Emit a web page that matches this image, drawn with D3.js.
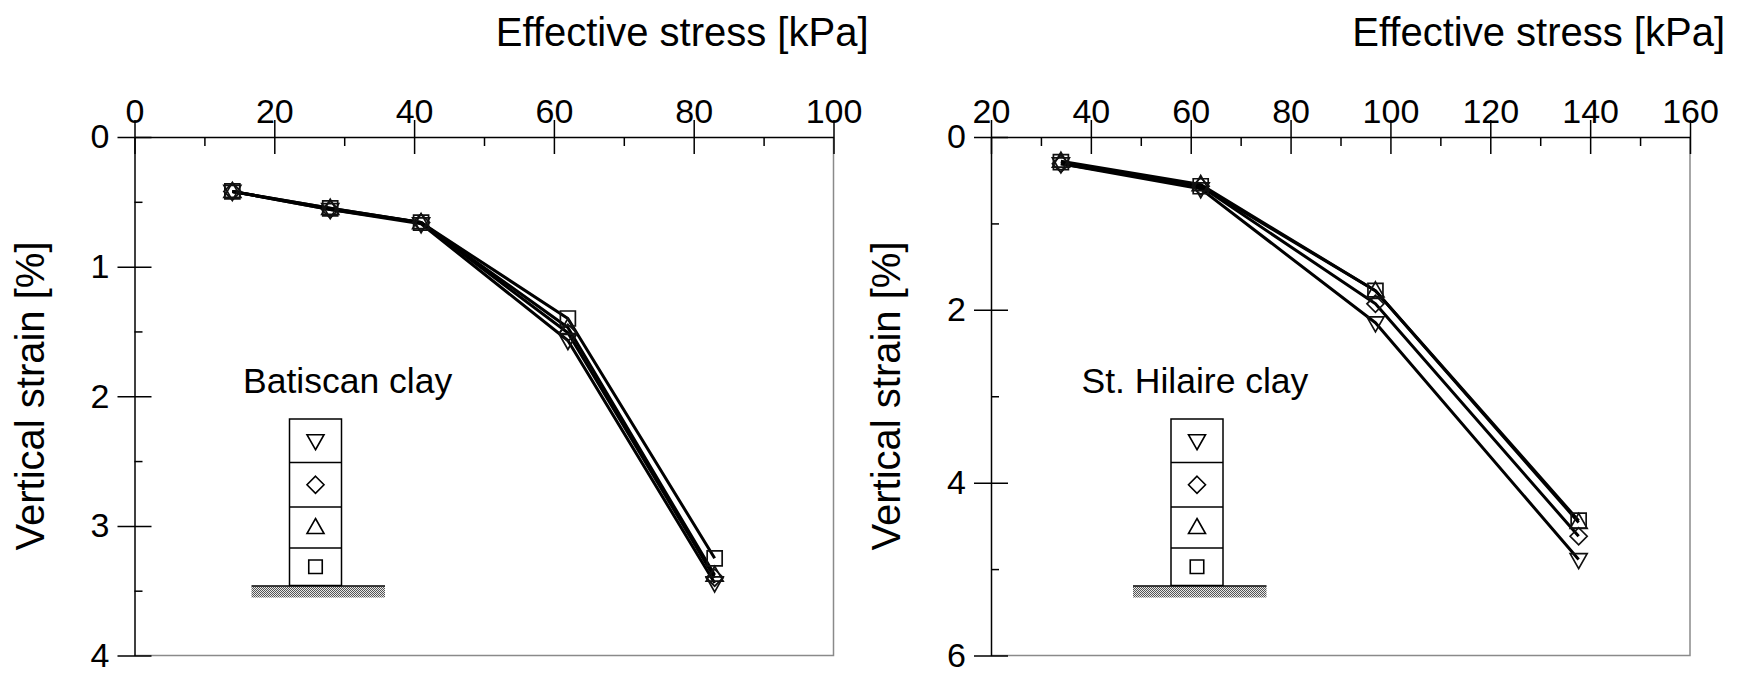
<!DOCTYPE html>
<html>
<head>
<meta charset="utf-8">
<script src="https://cdn.jsdelivr.net/npm/d3@7"></script>
<style>
  body { margin: 0; background: #fff; }
  text { font-family: "Liberation Sans", Arial, sans-serif; fill: #000; }
</style>
</head>
<body>
<div id="chart"></div>
<script>
// Batiscan clay: effective stress [kPa] and vertical strain [%] per gauge level
const batiscanStress = [14, 28, 41, 62, 83];
const batiscanSquare = [0.42, 0.55, 0.66, 1.40, 3.25];
const batiscanTriangle = [0.42, 0.55, 0.66, 1.47, 3.38];
const batiscanDiamond = [0.42, 0.56, 0.66, 1.51, 3.40];
const batiscanInvTriangle = [0.42, 0.56, 0.67, 1.57, 3.44];
const batiscanXTicks = [0, 20, 40, 60, 80, 100];
const batiscanYTicks = [0, 1, 2, 3, 4];

// St. Hilaire clay
const hilaireStress = [34, 62, 97, 137.7];
const hilaireSquare = [0.29, 0.57, 1.78, 4.44];
const hilaireTriangle = [0.28, 0.55, 1.78, 4.46];
const hilaireDiamond = [0.31, 0.57, 1.93, 4.62];
const hilaireInvTriangle = [0.31, 0.60, 2.15, 4.89];
const hilaireXTicks = [20, 40, 60, 80, 100, 120, 140, 160];
const hilaireYTicks = [0, 2, 4, 6];

const xTitle = "Effective stress [kPa]";
const yTitle = "Vertical strain [%]";

const WIDTH = 1739;
const HEIGHT = 677;

const svg = d3
  .select("#chart")
  .append("svg")
  .attr("width", WIDTH)
  .attr("height", HEIGHT);

// stipple pattern for the ground under the legend column
svg
  .append("defs")
  .append("pattern")
  .attr("id", "ground")
  .attr("width", 2)
  .attr("height", 2)
  .attr("patternUnits", "userSpaceOnUse")
  .call((p) => {
    p.append("rect").attr("width", 2).attr("height", 2).attr("fill", "#e8e8e8");
    p.append("rect").attr("width", 1).attr("height", 1).attr("fill", "#555");
    p.append("rect").attr("x", 1).attr("y", 1).attr("width", 1).attr("height", 1).attr("fill", "#555");
  });

// marker outlines, centred on 0,0
function markerPath(shape, k = 1) {
  const s = 7.5 * k;
  const w = 8.5 * k;
  if (shape === "square") return `M${-s},${-s}h${2 * s}v${2 * s}h${-2 * s}Z`;
  if (shape === "triangle") return `M0,${-9 * k}L${w},${6 * k}L${-w},${6 * k}Z`;
  if (shape === "invTriangle") return `M0,${9 * k}L${w},${-6 * k}L${-w},${-6 * k}Z`;
  return `M0,${-w}L${w},0L0,${w}L${-w},0Z`;
}

const panels = [
  {
    left: 134.5,
    right: 833.5,
    stress: batiscanStress,
    series: [
      { shape: "square", values: batiscanSquare },
      { shape: "triangle", values: batiscanTriangle },
      { shape: "diamond", values: batiscanDiamond },
      { shape: "invTriangle", values: batiscanInvTriangle },
    ],
    xTicks: batiscanXTicks,
    yTicks: batiscanYTicks,
    label: "Batiscan clay",
    labelX: 243,
    columnX: 289.5,
  },
  {
    left: 991,
    right: 1690,
    stress: hilaireStress,
    series: [
      { shape: "square", values: hilaireSquare },
      { shape: "triangle", values: hilaireTriangle },
      { shape: "diamond", values: hilaireDiamond },
      { shape: "invTriangle", values: hilaireInvTriangle },
    ],
    xTicks: hilaireXTicks,
    yTicks: hilaireYTicks,
    label: "St. Hilaire clay",
    labelX: 1081.5,
    columnX: 1171,
  },
];

const TOP = 137;
const BOTTOM = 655.5;

function midpoints(ticks) {
  return ticks.slice(1).map((t, i) => (t + ticks[i]) / 2);
}

function drawPanel(p) {
  const g = svg.append("g");
  const xTicks = p.xTicks;
  const yTicks = p.yTicks;

  const x = d3
    .scaleLinear()
    .domain([xTicks[0], xTicks[xTicks.length - 1]])
    .range([p.left, p.right]);
  const y = d3
    .scaleLinear()
    .domain([yTicks[0], yTicks[yTicks.length - 1]])
    .range([TOP, BOTTOM]);

  // grey frame on the right and bottom
  g.append("path")
    .attr("d", `M${p.left},${BOTTOM}H${p.right}V${TOP}`)
    .attr("fill", "none")
    .attr("stroke", "#8a8a8a")
    .attr("stroke-width", 1.5);

  // minor ticks (inward)
  g.append("g")
    .attr("transform", `translate(0,${TOP})`)
    .call(d3.axisTop(x).tickValues(midpoints(xTicks)).tickSizeInner(-9).tickSizeOuter(0).tickFormat(""))
    .call((a) => a.select(".domain").remove());
  g.append("g")
    .attr("transform", `translate(${p.left},0)`)
    .call(d3.axisLeft(y).tickValues(midpoints(yTicks)).tickSizeInner(-8).tickSizeOuter(0).tickFormat(""))
    .call((a) => a.select(".domain").remove());

  // major ticks crossing the axis
  const xAxis = g
    .append("g")
    .attr("transform", `translate(0,${TOP})`)
    .call(d3.axisTop(x).tickValues(xTicks).tickSizeOuter(0).tickFormat(d3.format("d")));
  xAxis.selectAll(".tick line").attr("y1", -17).attr("y2", 17);
  xAxis.selectAll(".tick text").attr("y", -14).attr("dy", null);

  const yAxis = g
    .append("g")
    .attr("transform", `translate(${p.left},0)`)
    .call(d3.axisLeft(y).tickValues(yTicks).tickSizeOuter(0).tickFormat(d3.format("d")));
  yAxis.selectAll(".tick line").attr("x1", -17).attr("x2", 17);
  yAxis.selectAll(".tick text").attr("x", -25);

  g.selectAll(".domain").attr("stroke", "#000").attr("stroke-width", 1.5);
  g.selectAll(".tick line").attr("stroke", "#000").attr("stroke-width", 1.5);
  g.selectAll(".tick text")
    .style("font-family", '"Liberation Sans", Arial, sans-serif')
    .style("font-size", "34px")
    .attr("fill", "#000");

  // axis titles
  g.append("text")
    .attr("x", p.right + 35)
    .attr("y", 46)
    .attr("text-anchor", "end")
    .style("font-size", "40px")
    .text(xTitle);

  g.append("text")
    .attr("transform", `translate(${p.left - 91},396) rotate(-90)`)
    .attr("text-anchor", "middle")
    .style("font-size", "40px")
    .text(yTitle);

  // lines
  const line = d3
    .line()
    .x((d, i) => x(p.stress[i]))
    .y((d) => y(d));

  g.selectAll(".series")
    .data(p.series)
    .enter()
    .append("path")
    .attr("class", "series")
    .attr("d", (s) => line(s.values))
    .attr("fill", "none")
    .attr("stroke", "#000")
    .attr("stroke-width", 3)
    .attr("stroke-linejoin", "round");

  // markers
  p.series.forEach((s) => {
    g.selectAll(null)
      .data(s.values)
      .enter()
      .append("path")
      .attr("transform", (d, i) => `translate(${x(p.stress[i])},${y(d)})`)
      .attr("d", markerPath(s.shape))
      .attr("fill", "none")
      .attr("stroke", "#111")
      .attr("stroke-width", 1.7);
  });

  // legend: clay name, gauge column and ground
  g.append("text")
    .attr("x", p.labelX)
    .attr("y", 393)
    .style("font-size", "35.5px")
    .text(p.label);

  const rows = [419, 462.5, 507, 548, 585.5];
  const colW = 52;
  const legendShapes = ["invTriangle", "diamond", "triangle", "square"];

  g.append("rect")
    .attr("x", p.columnX - 38)
    .attr("y", 586.5)
    .attr("width", 133.5)
    .attr("height", 11)
    .attr("fill", "url(#ground)");

  g.append("line")
    .attr("x1", p.columnX - 38)
    .attr("x2", p.columnX + 95.5)
    .attr("y1", 586)
    .attr("y2", 586)
    .attr("stroke", "#000")
    .attr("stroke-width", 1.5);

  g.append("rect")
    .attr("x", p.columnX)
    .attr("y", rows[0])
    .attr("width", colW)
    .attr("height", rows[rows.length - 1] - rows[0])
    .attr("fill", "none")
    .attr("stroke", "#000")
    .attr("stroke-width", 1.5);

  rows.slice(1, -1).forEach((r) => {
    g.append("line")
      .attr("x1", p.columnX)
      .attr("x2", p.columnX + colW)
      .attr("y1", r)
      .attr("y2", r)
      .attr("stroke", "#000")
      .attr("stroke-width", 1.5);
  });

  legendShapes.forEach((shape, i) => {
    g.append("path")
      .attr("transform", `translate(${p.columnX + colW / 2},${(rows[i] + rows[i + 1]) / 2})`)
      .attr("d", markerPath(shape, shape === "square" ? 0.9 : 1))
      .attr("fill", "none")
      .attr("stroke", "#000")
      .attr("stroke-width", 1.6);
  });
}

panels.forEach(drawPanel);
</script>
</body>
</html>
